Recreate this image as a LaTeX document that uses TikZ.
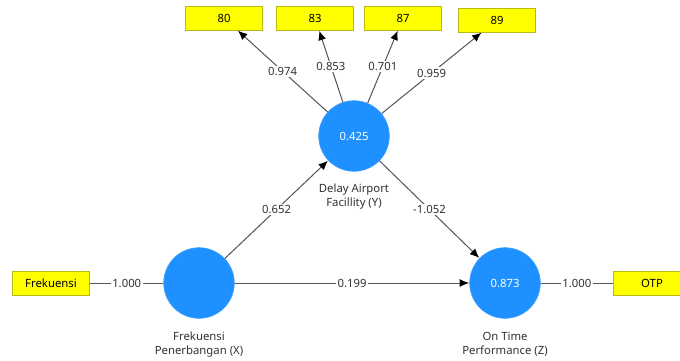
\documentclass[tikz,border=0pt]{standalone}
\usepackage{fontspec}
\setmainfont{Noto Sans}
\usetikzlibrary{arrows.meta,positioning}

\definecolor{lvblue}{RGB}{30,144,255}
\definecolor{indyellow}{RGB}{255,255,0}
\definecolor{indborder}{RGB}{185,185,20}
\definecolor{linkgray}{RGB}{85,85,85}
\definecolor{textgray}{RGB}{50,50,50}

\tikzset{
  latent/.style={circle, fill=lvblue, draw=lvblue!85!white, minimum size=53pt, inner sep=0pt,
    text=white, font=\fontsize{8.5}{10}\selectfont},
  indicator/.style={rectangle, fill=indyellow, draw=indborder, line width=0.6pt,
    minimum width=58pt, minimum height=18pt, inner sep=0pt, text=black,
    font=\fontsize{8.5}{10}\selectfont},
  coef/.style={fill=white, inner sep=1pt, text=textgray, font=\fontsize{8.5}{10}\selectfont},
  caption/.style={align=center, inner sep=0pt, text=textgray, font=\fontsize{8.5}{10.5}\selectfont},
  link/.style={draw=linkgray, line width=0.75pt},
  arrowlink/.style={link, -{Latex[length=7pt, width=6pt, black]}, shorten >=0.3pt}
}

\begin{document}
\begin{tikzpicture}[x=0.75pt, y=-0.75pt]
  \clip (0,0) rectangle (680,360);
  \fill[white] (0,0) rectangle (680,360);

  % constructs
  \node[latent] (Y) at (354,136) {0.425};
  \node[latent] (X) at (199,283) {};
  \node[latent] (Z) at (505,283) {0.873};

  \node[caption, below=9pt of Y] (Ycap) {Delay Airport\\Facillity (Y)};
  \node[caption, below=10pt of X] (Xcap) {Frekuensi\\Penerbangan (X)};
  \node[caption, below=10pt of Z] (Zcap) {On Time\\Performance (Z)};

  % indicators
  \node[indicator] (y80) at (224,18) {80};
  \node[indicator] (y83) at (315,18) {83};
  \node[indicator] (y87) at (403,18) {87};
  \node[indicator] (y89) at (497,20) {89};
  \node[indicator] (xfreq) at (51,283) {Frekuensi};
  \node[indicator] (zotp) at (652,283) {OTP};

  % outer loadings
  \draw[arrowlink] (Y) -- node[coef] {0.974} (y80);
  \draw[arrowlink] (Y) -- node[coef] {0.853} (y83);
  \draw[arrowlink] (Y) -- node[coef] {0.701} (y87);
  \draw[arrowlink] (Y) -- node[coef] {0.959} (y89);
  \draw[link] (xfreq) -- node[coef] {1.000} (X);
  \draw[link] (Z) -- node[coef] {1.000} (zotp);

  % path coefficients
  \draw[arrowlink] (X) -- node[coef] {0.652} (Y);
  \draw[arrowlink] (Y) -- node[coef] {-1.052} (Z);
  \draw[arrowlink] (X) -- node[coef] {0.199} (Z);
\end{tikzpicture}
\end{document}
